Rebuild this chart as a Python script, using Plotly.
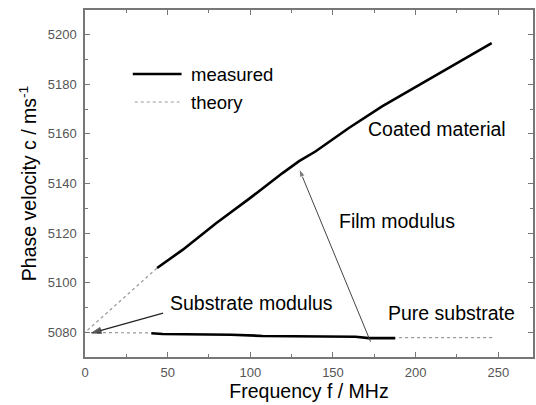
import plotly.graph_objects as go

# Coated material (measured)
coated_f = [43.6, 59.2, 79.3, 99.4, 119.5, 129.5, 139.6, 159.6, 179.7, 209.8, 246.0]
coated_v = [5105.9, 5113.3, 5124.0, 5133.9, 5144.2, 5149.0, 5153.0, 5162.4, 5171.1, 5182.6, 5196.6]
# Coated theory (extrapolation to substrate modulus)
coated_th_f = [1.5, 43.6]
coated_th_v = [5080.8, 5105.9]
# Pure substrate (measured)
pure_f = [40.1, 47.0, 88.3, 97.4, 107.4, 163.7, 171.7, 187.7]
pure_v = [5079.6, 5079.3, 5079.0, 5078.8, 5078.5, 5078.2, 5077.6, 5077.6]
# Pure substrate theory
pure_th1_f = [0.0, 40.1]
pure_th1_v = [5079.9, 5079.7]
pure_th2_f = [190.0, 248.0]
pure_th2_v = [5077.8, 5077.8]

# arrows: tail -> head
film_arrow_f = [172.7, 129.5]
film_arrow_v = [5076.2, 5146.0]
sub_arrow_f = [47.2, 4.0]
sub_arrow_v = [5087.7, 5079.7]

x_ticks = [0, 50, 100, 150, 200, 250]
y_ticks = [5080, 5100, 5120, 5140, 5160, 5180, 5200]

FONT = "Liberation Sans, Arial, sans-serif"
fig = go.Figure()

th_style = dict(color="#9a9a9a", width=1.2, dash="dot")
for fx, fy in [(coated_th_f, coated_th_v), (pure_th1_f, pure_th1_v), (pure_th2_f, pure_th2_v)]:
    fig.add_trace(go.Scatter(x=fx, y=fy, mode="lines", line=th_style, showlegend=False, hoverinfo="skip"))

ms_style = dict(color="black", width=2.6)
fig.add_trace(go.Scatter(x=coated_f, y=coated_v, mode="lines", line=ms_style, showlegend=False))
fig.add_trace(go.Scatter(x=pure_f, y=pure_v, mode="lines", line=ms_style, showlegend=False))

# arrows drawn as line + arrow marker
fig.add_trace(go.Scatter(x=film_arrow_f, y=film_arrow_v, mode="lines+markers",
                         line=dict(color="#444", width=1),
                         marker=dict(symbol=["circle", "arrow"], size=[0, 9], angleref="previous", color="#444"),
                         showlegend=False, hoverinfo="skip"))
fig.add_trace(go.Scatter(x=sub_arrow_f, y=sub_arrow_v, mode="lines+markers",
                         line=dict(color="#222", width=1.2),
                         marker=dict(symbol=["circle", "arrow"], size=[0, 10], angleref="previous", color="#111"),
                         showlegend=False, hoverinfo="skip"))

# legend (manual)
fig.add_shape(type="line", xref="paper", yref="paper", x0=(133-85)/450, x1=(182-85)/450,
              y0=(357-74)/347, y1=(357-74)/347, line=dict(color="black", width=2.6))
fig.add_shape(type="line", xref="paper", yref="paper", x0=(135-85)/450, x1=(180-85)/450,
              y0=(357-102)/347, y1=(357-102)/347, line=dict(color="#9a9a9a", width=1.2, dash="dot"))
fig.add_annotation(xref="paper", yref="paper", x=(189-85)/450, y=(357-75)/347, text="measured",
                   showarrow=False, xanchor="left", yanchor="middle", font=dict(size=18.5, color="black", family=FONT))
fig.add_annotation(xref="paper", yref="paper", x=(189-85)/450, y=(357-102)/347, text="theory",
                   showarrow=False, xanchor="left", yanchor="middle", font=dict(size=18.5, color="black", family=FONT))

lab_font = dict(size=19.5, color="black", family=FONT)
fig.add_annotation(x=213, y=5162, text="Coated material", showarrow=False, font=lab_font)
fig.add_annotation(x=189, y=5124.7, text="Film modulus", showarrow=False, font=lab_font)
fig.add_annotation(x=100.6, y=5091.6, text="Substrate modulus", showarrow=False, font=lab_font)
fig.add_annotation(x=221.7, y=5087.7, text="Pure substrate", showarrow=False, font=lab_font)

axis_common = dict(showline=True, mirror="ticks", linecolor="#777", linewidth=1.5, ticks="inside",
                   ticklen=5, tickcolor="#777", tickwidth=1, showgrid=False, zeroline=False,
                   tickfont=dict(size=13, color="#555", family=FONT))
fig.update_xaxes(range=[0, 271], tickvals=x_ticks, ticktext=[str(v) for v in x_ticks],
                 minor=dict(dtick=25, tick0=0, ticks="inside", ticklen=3, tickcolor="#777"),
                 title=dict(text="Frequency f / MHz", font=dict(size=19.5, color="black", family=FONT), standoff=4),
                 ticklabelstandoff=3, **axis_common)
fig.update_yaxes(range=[5070, 5210], tickvals=y_ticks, ticktext=[str(v) for v in y_ticks],
                 minor=dict(dtick=10, tick0=5070, ticks="inside", ticklen=3, tickcolor="#777"),
                 title=dict(text="Phase velocity c / ms<sup>-1</sup>", font=dict(size=19.5, color="black", family=FONT), standoff=6),
                 ticklabelstandoff=4, **axis_common)

fig.update_layout(width=536, height=405, margin=dict(l=85, r=1, t=10, b=48),
                  plot_bgcolor="white", paper_bgcolor="white", showlegend=False)
fig.write_html("out.html")
